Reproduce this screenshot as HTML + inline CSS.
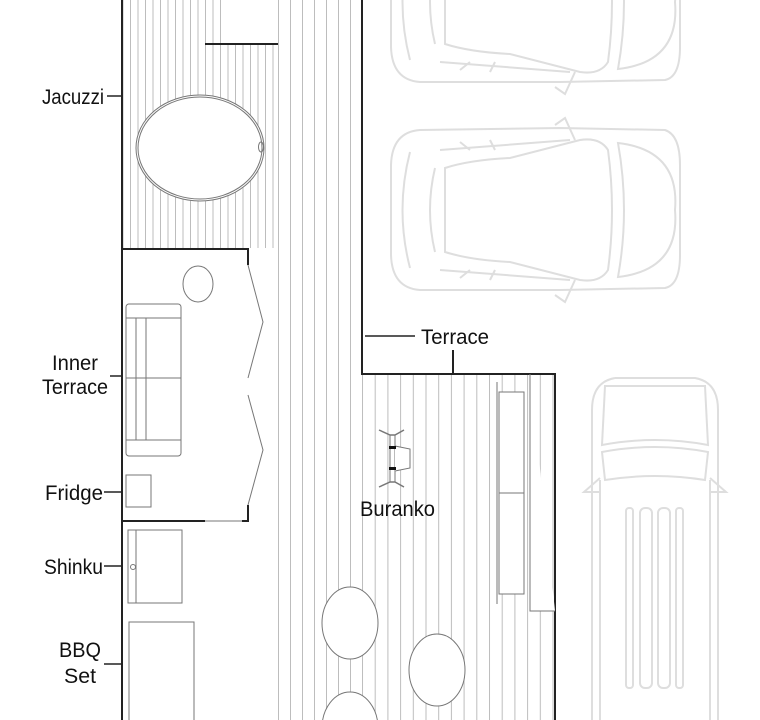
<!DOCTYPE html>
<html><head><meta charset="utf-8"><style>
html,body{margin:0;padding:0;background:#fff;width:760px;height:720px;overflow:hidden}
svg{display:block}
text{font-family:"Liberation Sans Narrow","Liberation Sans",sans-serif;font-size:21px;fill:#111}
</style></head><body>
<svg width="760" height="720" viewBox="0 0 760 720" xmlns="http://www.w3.org/2000/svg">
<defs>
<clipPath id="cl"><rect x="0" y="0" width="760" height="720"/></clipPath>
<pattern id="pj" x="130" y="0" width="7.5" height="10" patternUnits="userSpaceOnUse"><line x1="0.5" y1="0" x2="0.5" y2="10" stroke="#bdbdbd" stroke-width="1"/></pattern>
<pattern id="pc" x="278" y="0" width="12" height="10" patternUnits="userSpaceOnUse"><line x1="0.5" y1="0" x2="0.5" y2="10" stroke="#bdbdbd" stroke-width="1"/></pattern>
<pattern id="pt" x="362" y="0" width="12.7" height="10" patternUnits="userSpaceOnUse"><line x1="0.5" y1="0" x2="0.5" y2="10" stroke="#bdbdbd" stroke-width="1"/></pattern>
<g id="car" fill="none" stroke="#dedede" stroke-width="2">
 <path d="M420,130 L560,128 L665,130 Q680,135 680,165 L680,255 Q680,285 665,288 L560,290 L420,290 Q392,288 391,255 L391,165 Q392,132 420,130 Z"/>
 <path d="M445,168 Q470,160 510,158 L580,140 Q600,137 608,150 Q616,210 608,270 Q600,283 580,280 L510,262 Q470,260 445,252 Z"/>
 <path d="M435,168 Q425,210 435,252"/>
 <path d="M410,152 Q395,210 410,268"/>
 <path d="M440,150 L570,140 M440,270 L570,280"/>
 <path d="M618,143 Q680,150 675,210 Q680,270 618,277 Q630,210 618,143 Z"/>
 <path d="M555,125 L565,118 L575,140 M555,295 L565,302 L575,280"/>
 <path d="M460,142 L470,150 M490,140 L495,150 M460,278 L470,270 M490,280 L495,270"/>
</g>
</defs>
<g clip-path="url(#cl)">
<rect x="122" y="0" width="103" height="248" fill="url(#pj)"/>
<rect x="225" y="44" width="53" height="204" fill="url(#pj)"/>
<rect x="278" y="0" width="84" height="720" fill="url(#pc)"/>
<rect x="362" y="374" width="193" height="346" fill="url(#pt)"/>
<rect x="123" y="249" width="125" height="272" fill="#fff"/>
<rect x="248" y="249" width="20" height="272" fill="#fff"/>
<rect x="123" y="521" width="154" height="199" fill="#fff"/>
<rect x="278" y="249" width="1" height="472" fill="#bdbdbd"/>
<g stroke="#222" stroke-width="2" fill="none">
 <line x1="122" y1="0" x2="122" y2="720"/>
 <line x1="362" y1="0" x2="362" y2="375"/>
 <polyline points="361,374 555,374 555,720"/>
 <line x1="205" y1="44" x2="278" y2="44"/>
 <polyline points="122,249 248,249 248,265"/>
 <line x1="248" y1="505" x2="248" y2="521"/>
 <line x1="122" y1="521" x2="205" y2="521"/>
 <line x1="242" y1="521" x2="249" y2="521"/>
 <line x1="453" y1="350" x2="453" y2="374"/>
 <line x1="365" y1="336" x2="415" y2="336" stroke-width="1.5"/>
 <line x1="107" y1="96" x2="122" y2="96" stroke-width="1.5"/>
 <line x1="110" y1="376" x2="122" y2="376" stroke-width="1.5"/>
 <line x1="104" y1="492" x2="122" y2="492" stroke-width="1.5"/>
 <line x1="104" y1="566" x2="122" y2="566" stroke-width="1.5"/>
 <line x1="104" y1="664" x2="122" y2="664" stroke-width="1.5"/>
</g>
<g stroke="#777" stroke-width="1" fill="none">
 <line x1="205" y1="521" x2="242" y2="521"/>
 <polyline points="248,265 263,322 248,378"/>
 <polyline points="248,395 263,450 248,505"/>
 <ellipse cx="198" cy="284" rx="15" ry="18"/>
 <rect x="126" y="304" width="55" height="152" rx="3"/>
 <line x1="126" y1="318" x2="181" y2="318"/><line x1="126" y1="440" x2="181" y2="440"/>
 <line x1="136" y1="318" x2="136" y2="440"/><line x1="146" y1="318" x2="146" y2="440"/>
 <line x1="126" y1="378" x2="181" y2="378"/>
 <rect x="126" y="475" width="25" height="32"/>
 <rect x="128" y="530" width="54" height="73"/><line x1="136" y1="530" x2="136" y2="603"/>
 <circle cx="133" cy="567" r="2.5"/>
 <rect x="129" y="622" width="65" height="100"/>
 <ellipse cx="200" cy="148" rx="64" ry="53" fill="#fff"/>
 <ellipse cx="200" cy="148" rx="62" ry="51"/>
 <ellipse cx="261" cy="147" rx="2.5" ry="5"/>
 <rect x="499" y="392" width="25" height="202" fill="#fff"/>
 <line x1="497" y1="382" x2="497" y2="604"/>
 <line x1="499" y1="493" x2="524" y2="493"/>
 <polyline points="530,374 530,611 555,611" fill="#fff"/>
 <ellipse cx="350" cy="623" rx="28" ry="36" fill="#fff"/>
 <ellipse cx="437" cy="670" rx="28" ry="36" fill="#fff"/>
 <ellipse cx="350" cy="728" rx="28" ry="36" fill="#fff"/>
 <path d="M379,430 L390,435 L395,435 L404,430 M379,487 L390,482 L395,482 L404,487" stroke-width="1.5"/>
 <line x1="390" y1="435" x2="390" y2="482"/><line x1="395" y1="435" x2="395" y2="482"/>
 <path d="M395,446 L410,449 L410,468 L395,471" fill="#fff"/>
</g>
<rect x="389" y="446" width="7" height="3" fill="#111"/>
<rect x="389" y="467" width="7" height="3" fill="#111"/>
<use href="#car"/>
<use href="#car" transform="translate(0,-208)"/>
<g fill="none" stroke="#dedede" stroke-width="2">
 <path d="M615,378 L695,378 Q718,382 718,410 L718,720 M592,720 L592,410 Q592,382 615,378"/>
 <path d="M605,386 L705,386 L708,445 Q655,435 602,445 Z"/>
 <path d="M602,452 Q655,442 708,452 L705,480 Q655,472 605,480 Z"/>
 <path d="M600,480 L600,720 M710,480 L710,720"/>
 <path d="M600,478 L584,492 L600,492 M710,478 L726,492 L710,492"/>
 <rect x="626" y="508" width="7" height="180" rx="3"/>
 <rect x="640" y="508" width="12" height="180" rx="5"/>
 <rect x="658" y="508" width="12" height="180" rx="5"/>
 <rect x="676" y="508" width="7" height="180" rx="3"/>
</g>
</g>
<text x="42" y="104" textLength="62" lengthAdjust="spacingAndGlyphs">Jacuzzi</text>
<text x="52" y="370" textLength="46" lengthAdjust="spacingAndGlyphs">Inner</text>
<text x="42" y="394" textLength="66" lengthAdjust="spacingAndGlyphs">Terrace</text>
<text x="45" y="500" textLength="58" lengthAdjust="spacingAndGlyphs">Fridge</text>
<text x="44" y="574" textLength="59" lengthAdjust="spacingAndGlyphs">Shinku</text>
<text x="59" y="657" textLength="42" lengthAdjust="spacingAndGlyphs">BBQ</text>
<text x="64" y="683" textLength="32" lengthAdjust="spacingAndGlyphs">Set</text>
<text x="421" y="344" textLength="68" lengthAdjust="spacingAndGlyphs">Terrace</text>
<text x="360" y="516" textLength="75" lengthAdjust="spacingAndGlyphs">Buranko</text>
</svg>
</body></html>
